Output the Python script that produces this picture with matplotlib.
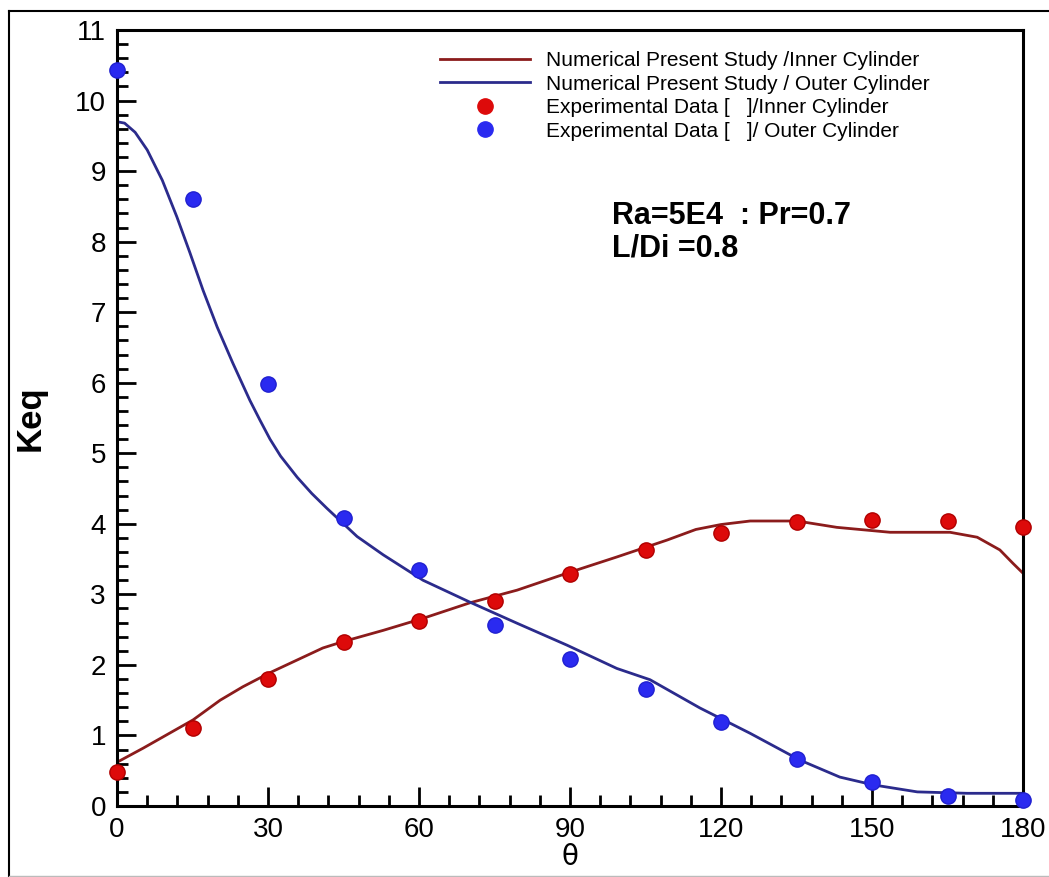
import numpy as np
import matplotlib
matplotlib.use('Agg')
import matplotlib.pyplot as plt
from matplotlib.ticker import MultipleLocator
from matplotlib.lines import Line2D

plt.rcParams['font.family'] = ['Liberation Sans', 'DejaVu Sans']

# experimental points
theta_exp = [0, 15, 30, 45, 60, 75, 90, 105, 120, 135, 150, 165, 180]
inner_exp = [0.48, 1.10, 1.80, 2.32, 2.62, 2.91, 3.29, 3.63, 3.87, 4.03, 4.05, 4.04, 3.95]
outer_exp = [10.43, 8.60, 5.98, 4.08, 3.35, 2.57, 2.08, 1.66, 1.19, 0.67, 0.34, 0.14, 0.08]

# numerical curves
theta_in = [0, 5.2, 9.9, 15.1, 20.5, 25, 30.4, 35.8, 40.9, 44.9, 52.9, 60.8, 70.1, 79.5,
            89.4, 99.3, 109.3, 115, 120, 125.8, 135.1, 143, 153.6, 165.5, 170.9, 175.4, 178, 180]
inner_num = [0.62, 0.82, 1.01, 1.22, 1.50, 1.69, 1.89, 2.07, 2.24, 2.33, 2.49, 2.66, 2.88, 3.06,
             3.30, 3.53, 3.77, 3.92, 3.99, 4.04, 4.04, 3.95, 3.88, 3.88, 3.81, 3.63, 3.44, 3.30]

theta_out = [0, 1.5, 3.6, 6, 9, 11.9, 14.5, 17.1, 19.9, 23.0, 26.4, 28.4, 30.4, 32.5, 35.8,
             38.7, 41.7, 47.7, 52.9, 60.8, 70.1, 79.5, 89.4, 99.3, 105.9, 115.8, 125.8, 135.7,
             143.6, 150.2, 159, 168.9, 180]
outer_num = [9.70, 9.68, 9.55, 9.30, 8.87, 8.35, 7.84, 7.31, 6.79, 6.28, 5.75, 5.47, 5.20, 4.96,
             4.66, 4.43, 4.22, 3.82, 3.56, 3.20, 2.89, 2.59, 2.28, 1.95, 1.79, 1.39, 1.03, 0.65,
             0.41, 0.30, 0.20, 0.18, 0.18]

labels = ['Numerical Present Study /Inner Cylinder',
          'Numerical Present Study / Outer Cylinder',
          'Experimental Data [   ]/Inner Cylinder',
          'Experimental Data [   ]/ Outer Cylinder']

red_line = '#8b1c1c'
blue_line = '#2b2b8c'
red_pt = '#dd0a0a'
blue_pt = '#2a2af0'

fig = plt.figure(figsize=(10.49, 8.77), dpi=100)
ax = fig.add_axes([117/1049, 1-806/877, 906/1049, 776/877])

ax.plot(theta_in, inner_num, color=red_line, lw=2)
ax.plot(theta_out, outer_num, color=blue_line, lw=2)
ax.plot(theta_exp, inner_exp, 'o', ms=11, color=red_pt, mec='#b00000', mew=1, clip_on=False, zorder=5)
ax.plot(theta_exp, outer_exp, 'o', ms=11, color=blue_pt, mec='#2020d0', mew=1, clip_on=False, zorder=5)

ax.set_xlim(0, 180)
ax.set_ylim(0, 11)
ax.xaxis.set_major_locator(MultipleLocator(30))
ax.xaxis.set_minor_locator(MultipleLocator(6))
ax.yaxis.set_major_locator(MultipleLocator(1))
ax.yaxis.set_minor_locator(MultipleLocator(0.2))
ax.tick_params(which='both', direction='in', top=False, right=False, width=2, labelsize=20)
ax.tick_params(which='major', length=14, pad=8)
ax.tick_params(which='minor', length=8)
for s in ax.spines.values():
    s.set_linewidth(2.2)

ax.set_xlabel('θ', fontsize=20, family=['DejaVu Sans'], labelpad=0)
ax.set_ylabel('Keq', fontsize=25, fontweight='bold', labelpad=20)

handles = [Line2D([], [], color=red_line, lw=2),
           Line2D([], [], color=blue_line, lw=2),
           Line2D([], [], ls='', marker='o', ms=11, color=red_pt),
           Line2D([], [], ls='', marker='o', ms=11, color=blue_pt)]
ax.legend(handles, labels, loc='upper left', bbox_to_anchor=(0.3565, 0.973),
          frameon=False, fontsize=15, handlelength=4.3, handletextpad=0.8,
          labelspacing=0.22, borderpad=0, borderaxespad=0)

ax.text(0.546, 0.750, 'Ra=5E4  : Pr=0.7', transform=ax.transAxes,
        fontsize=22, fontweight='bold')
ax.text(0.546, 0.708, 'L/Di =0.8', transform=ax.transAxes,
        fontsize=22, fontweight='bold')

# outer frame of the picture
fig.add_artist(Line2D([9/1049, 9/1049], [1-11/877, 0], color='black', lw=1.5))
fig.add_artist(Line2D([9/1049, 1], [1-11/877, 1-11/877], color='black', lw=1.5))
fig.add_artist(Line2D([9/1049, 1], [1/877, 1/877], color='#bbbbbb', lw=1))

fig.savefig('out.png', dpi=100)
